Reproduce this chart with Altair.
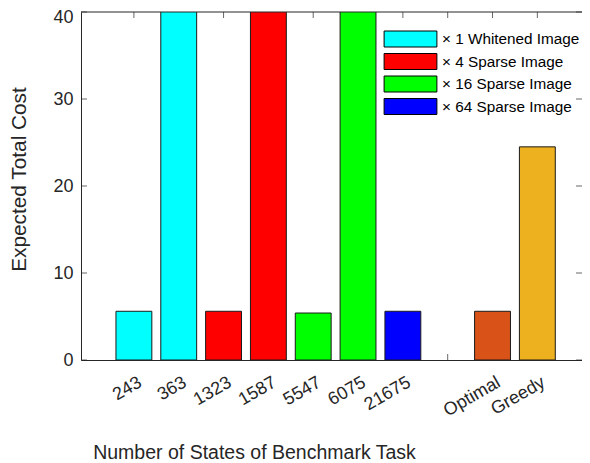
import json
import altair as alt
import pandas as pd

# ---- data ----
categories = ["243", "363", "1323", "1587", "5547", "6075", "21675", "Optimal", "Greedy"]
positions = [1, 2, 3, 4, 5, 6, 7, 9, 10]
# bars for 363, 1587 and 6075 run off the top of the 0-40 axis (drawn clipped)
costs = [5.6, 45.0, 5.6, 45.0, 5.4, 45.0, 5.6, 5.6, 24.5]
series = ["× 1 Whitened Image", "× 1 Whitened Image",
          "× 4 Sparse Image", "× 4 Sparse Image",
          "× 16 Sparse Image", "× 16 Sparse Image",
          "× 64 Sparse Image", "Optimal", "Greedy"]
series_order = ["× 1 Whitened Image", "× 4 Sparse Image", "× 16 Sparse Image",
                "× 64 Sparse Image", "Optimal", "Greedy"]
series_colors = ["#00FFFF", "#FF0000", "#00FF00", "#0000FF", "#D95319", "#EDB120"]
legend_series = series_order[:4]

tick_positions = [1, 2, 3, 4, 5, 6, 7, 8, 9, 10]
tick_labels = ["243", "363", "1323", "1587", "5547", "6075", "21675", "", "Optimal", "Greedy"]
y_ticks = [0, 10, 20, 30, 40]

FONT = "Liberation Sans"
AX = "#262626"

bars_df = pd.DataFrame({"cat": categories, "pos": positions, "cost": costs, "series": series})
xt_df = pd.DataFrame({"pos": tick_positions})
yt_df = pd.DataFrame({"v": y_ticks})

x_dom = [-0.18, 10.996]
x_scale = alt.Scale(domain=x_dom, nice=False, zero=False, padding=0)
y_scale = alt.Scale(domain=[0, 40], nice=False, zero=True, padding=0)

label_map = json.dumps([""] + tick_labels)

x_axis = alt.Axis(values=tick_positions, labelExpr=f"{label_map}[datum.value]",
                  ticks=False, grid=False, domainColor=AX, domainWidth=1,
                  labelFont=FONT, labelFontSize=18, labelColor=AX,
                  labelAngle=330, labelAlign="right", labelBaseline="middle",
                  labelOffset=6, labelPadding=21, labelOverlap=False, labelBound=False,
                  title="Number of States of Benchmark Task",
                  titleFont=FONT, titleFontSize=19.5, titleFontWeight="normal",
                  titleColor=AX, titleX=173, titleY=98, titleAlign="center",
                  titleBaseline="alphabetic")
y_axis = alt.Axis(values=y_ticks, ticks=False, grid=False, domainColor=AX,
                  domainWidth=1, labelFont=FONT, labelFontSize=18,
                  labelColor=AX, labelPadding=8,
                  labelOffset={"condition": {"test": f"datum.value == {y_ticks[-1]}", "value": 5},
                               "value": 0},
                  title="Expected Total Cost", titleFont=FONT,
                  titleFontSize=20.8, titleFontWeight="normal", titleColor=AX,
                  titleX=-62, titleY=167, titleAngle=270, titleAlign="center",
                  titleBaseline="middle")

bars = alt.Chart(bars_df).transform_calculate(
    xl="datum.pos - 0.4", xr="datum.pos + 0.4"
).mark_bar(clip=True, stroke="#1a1a1a", strokeWidth=1).encode(
    x=alt.X("xl:Q", scale=x_scale, axis=x_axis),
    x2="xr:Q",
    y=alt.Y("cost:Q", scale=y_scale, axis=y_axis),
    y2=alt.datum(0),
    fill=alt.Fill("series:N",
                  scale=alt.Scale(domain=series_order, range=series_colors),
                  legend=alt.Legend(values=legend_series, title=None, orient="none",
                                    legendX=321, legendY=18.5, padding=0,
                                    symbolType="M-3.3,-1H3.3V1H-3.3Z", symbolSize=256,
                                    symbolStrokeColor="#000000", symbolStrokeWidth=1,
                                    symbolOpacity=1, labelOffset=23, rowPadding=1.5,
                                    labelFont=FONT, labelFontSize=15.3, labelColor="#000000")),
)

top_line = alt.Chart(yt_df).mark_rule(color=AX, strokeWidth=1).encode(
    y=alt.Y("max(v):Q", scale=y_scale, axis=y_axis)
)

bottom_ticks = alt.Chart(xt_df).transform_calculate(zero="0").mark_tick(
    orient="vertical", size=6, thickness=1, color=AX, yOffset=-3).encode(
    x=alt.X("pos:Q", scale=x_scale, axis=x_axis),
    y=alt.Y("zero:Q", scale=y_scale, axis=y_axis),
)

top_ticks = alt.Chart(xt_df).transform_calculate(top="40").mark_tick(
    orient="vertical", size=6, thickness=1, color=AX, yOffset=3).encode(
    x=alt.X("pos:Q", scale=x_scale, axis=x_axis),
    y=alt.Y("top:Q", scale=y_scale, axis=y_axis),
)

left_ticks = alt.Chart(yt_df).transform_calculate(lx=str(x_dom[0])).mark_tick(
    orient="horizontal", size=6, thickness=1, color=AX, xOffset=3).encode(
    y=alt.Y("v:Q", scale=y_scale, axis=y_axis),
    x=alt.X("lx:Q", scale=x_scale, axis=x_axis),
)

right_ticks = alt.Chart(yt_df).transform_calculate(rx=str(x_dom[1])).mark_tick(
    orient="horizontal", size=6, thickness=1, color=AX, xOffset=-3).encode(
    y=alt.Y("v:Q", scale=y_scale, axis=y_axis),
    x=alt.X("rx:Q", scale=x_scale, axis=x_axis),
)

chart = alt.layer(
    bottom_ticks, top_ticks, left_ticks, right_ticks, bars, top_line
).properties(
    width=501, height=348,
    autosize=alt.AutoSizeParams(type="none"),
    padding={"left": 73, "top": 4, "right": 0, "bottom": 103},
    background="white",
).configure_view(stroke=None)

chart.save("out.html", embed_options={"renderer": "svg", "actions": False})
